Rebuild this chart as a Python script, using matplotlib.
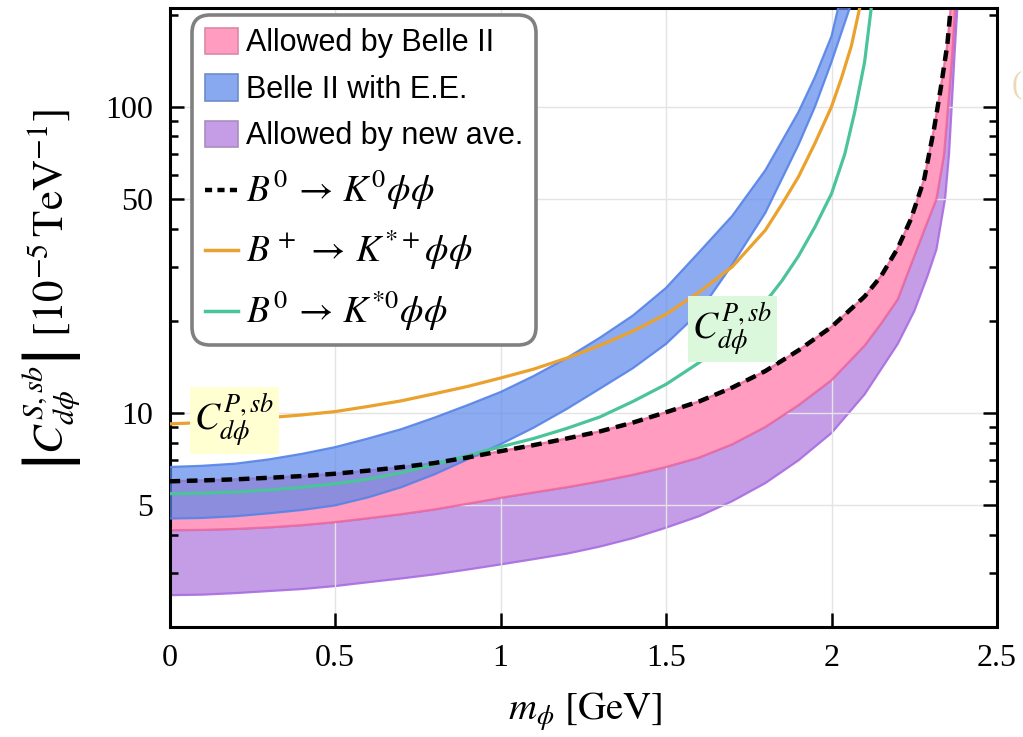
import numpy as np
import matplotlib.pyplot as plt
from matplotlib.patches import Patch
from matplotlib.lines import Line2D

plt.rcParams['mathtext.fontset'] = 'stix'
plt.rcParams['font.family'] = ['Liberation Serif', 'DejaVu Serif']

# values (|C| in 1e-5 TeV^-1 vs m_phi in GeV)
x_orange = [0, 0.1, 0.2, 0.3, 0.4, 0.5, 0.6, 0.7, 0.8, 0.9, 1.0, 1.1, 1.2, 1.3, 1.4, 1.5,
            1.6, 1.7, 1.8, 1.85, 1.9, 1.95, 2.0, 2.03, 2.06, 2.085]
y_orange = [9.21, 9.3, 9.45, 9.65, 9.85, 10.1, 10.5, 10.95, 11.55, 12.2, 13.0, 13.9, 15.1, 16.6,
            18.5, 21.0, 24.8, 30.0, 39.5, 48, 59, 76, 100, 124, 158, 210]

x_green = [0, 0.1, 0.2, 0.3, 0.4, 0.5, 0.6, 0.7, 0.8, 0.9, 1.0, 1.1, 1.2, 1.3, 1.4, 1.5,
           1.6, 1.7, 1.8, 1.85, 1.9, 1.95, 2.0, 2.04, 2.07, 2.1, 2.12]
y_green = [5.45, 5.47, 5.52, 5.6, 5.72, 5.87, 6.08, 6.38, 6.78, 7.25, 7.75, 8.25, 8.9, 9.7,
           10.9, 12.4, 14.6, 18.0, 23.0, 27, 32.5, 40.5, 52, 70, 96, 140, 210]

x_dash = [0, 0.1, 0.2, 0.3, 0.4, 0.5, 0.6, 0.7, 0.8, 0.9, 1.0, 1.1, 1.2, 1.3, 1.4, 1.5,
          1.6, 1.7, 1.8, 1.9, 2.0, 2.1, 2.15, 2.2, 2.24, 2.28, 2.31, 2.33, 2.35, 2.36]
y_dash = [5.98, 6.02, 6.07, 6.14, 6.22, 6.33, 6.48, 6.65, 6.86, 7.15, 7.5, 7.85, 8.25, 8.7,
          9.3, 10.05, 10.9, 12.1, 13.7, 16.0, 19.1, 24.0, 28.0, 34.5, 43, 58, 85, 115, 160, 210]

x_blue_up = [0, 0.1, 0.2, 0.3, 0.4, 0.5, 0.6, 0.7, 0.8, 0.9, 1.0, 1.1, 1.2, 1.3, 1.4, 1.5,
             1.6, 1.7, 1.8, 1.9, 1.95, 2.0, 2.02]
y_blue_up = [6.66, 6.72, 6.83, 7.05, 7.35, 7.73, 8.25, 8.85, 9.65, 10.6, 11.7, 13.2, 15.1, 17.6,
             20.8, 25.6, 33.5, 44, 62, 96, 125, 170, 210]
x_blue_lo = [0, 0.1, 0.2, 0.3, 0.4, 0.5, 0.6, 0.7, 0.8, 0.9, 1.0, 1.1, 1.2, 1.3, 1.4, 1.5,
             1.6, 1.7, 1.8, 1.9, 1.95, 2.0, 2.055]
y_blue_lo = [4.52, 4.54, 4.6, 4.7, 4.82, 4.99, 5.3, 5.72, 6.3, 7.05, 7.9, 8.95, 10.3, 12.0,
             14.0, 16.8, 21.3, 30.5, 45, 75, 100, 140, 210]

# pink band: between the dashed curve and this lower edge
x_pink_lo = [0, 0.1, 0.2, 0.3, 0.4, 0.5, 0.6, 0.7, 0.8, 0.9, 1.0, 1.1, 1.2, 1.3, 1.4, 1.5,
             1.6, 1.7, 1.8, 1.9, 2.0, 2.1, 2.15, 2.2, 2.24, 2.28, 2.317, 2.34, 2.352, 2.365, 2.373]
y_pink_lo = [4.14, 4.15, 4.18, 4.23, 4.3, 4.4, 4.53, 4.67, 4.84, 5.05, 5.28, 5.5, 5.72, 5.98,
             6.28, 6.66, 7.15, 7.9, 9.0, 10.6, 12.8, 16.6, 19.6, 23.5, 30.5, 39.5, 50, 70, 100,
             150, 210]

# purple band: between pink lower edge and this one
x_purp_lo = [0, 0.1, 0.2, 0.3, 0.4, 0.5, 0.6, 0.7, 0.8, 0.9, 1.0, 1.1, 1.2, 1.3, 1.4, 1.5,
             1.6, 1.7, 1.8, 1.9, 2.0, 2.1, 2.2, 2.25, 2.29, 2.317, 2.343, 2.355, 2.363, 2.372, 2.38]
y_purp_lo = [2.54, 2.55, 2.58, 2.62, 2.66, 2.72, 2.8, 2.88, 2.97, 3.08, 3.2, 3.33, 3.47, 3.66,
             3.9, 4.22, 4.6, 5.15, 5.9, 7.0, 8.6, 11.5, 16.8, 21.5, 28, 34.2, 50, 70, 100, 150, 210]

x_ticks = [0, 0.5, 1, 1.5, 2, 2.5]
x_ticklabels = ['0', '0.5', '1', '1.5', '2', '2.5']
y_ticks = [5, 10, 50, 100]
y_ticklabels = ['5', '10', '50', '100']
y_minor = [2, 3, 4, 6, 7, 8, 9, 20, 30, 40, 60, 70, 80, 90, 200]

legend_labels = ['Allowed by Belle II', 'Belle II with E.E.', 'Allowed by new ave.',
                 r'$B^0\,\rightarrow\,K^0\phi\phi$', r'$B^+\,\rightarrow\,K^{*+}\phi\phi$',
                 r'$B^0\,\rightarrow\,K^{*0}\phi\phi$']

PINK, PINK_E = '#ff9cbf', '#ee6a9e'
BLUE, BLUE_E = '#5d88ea', '#5683e6'
PURP, PURP_E = '#c59de6', '#a86ce0'
ORANGE = '#eba12e'
GREEN = '#4cc49a'


def band(ax, xu, yu, xl, yl, fc, ec, alpha, z):
    xs = np.concatenate([xu, xl[::-1]])
    ys = np.concatenate([yu, yl[::-1]])
    ax.fill(xs, ys, facecolor=fc, alpha=alpha, lw=0, zorder=z)
    ax.plot(xu, yu, color=ec, lw=1.6, alpha=0.9, zorder=z + 0.1)
    ax.plot(xl, yl, color=ec, lw=1.6, alpha=0.9, zorder=z + 0.1)


fig = plt.figure(figsize=(10.23, 7.37), dpi=100)
ax = fig.add_axes([0.1657, 0.1493, 0.8089, 0.8398])
ax.set_yscale('log')

band(ax, x_pink_lo, y_pink_lo, x_purp_lo, y_purp_lo, PURP, PURP_E, 1.0, 1)
band(ax, x_dash, y_dash, x_pink_lo, y_pink_lo, PINK, PINK_E, 1.0, 2)
band(ax, x_blue_up, y_blue_up, x_blue_lo, y_blue_lo, BLUE, BLUE_E, 0.7, 3)

ax.plot(x_green, y_green, color=GREEN, lw=2.3, zorder=4)
ax.plot(x_orange, y_orange, color=ORANGE, lw=2.3, zorder=4)
ax.plot(x_dash, y_dash, color='black', lw=3.2, dashes=(2.4, 1.5), zorder=5)

ax.set_xlim(0, 2.5)
ax.set_ylim(2.02, 210)
ax.set_xticks(x_ticks)
ax.set_xticklabels(x_ticklabels)
ax.set_yticks(y_ticks)
ax.set_yticklabels(y_ticklabels)
ax.set_yticks(y_minor, minor=True)
ax.set_yticklabels([], minor=True)
ax.tick_params(axis='both', which='major', direction='in', length=10, width=1.8,
               labelsize=23, pad=12)
ax.tick_params(axis='y', which='both', right=True)
ax.tick_params(axis='y', which='minor', direction='in', length=6, width=1.8)
ax.tick_params(axis='x', which='minor', bottom=False)
ax.grid(True, which='major', color='#e4e4e4', lw=1.0, zorder=0)
for s in ax.spines.values():
    s.set_linewidth(2.2)

# curve labels
ax.text(0.196, 9.45, r'$C_{d\phi}^{P,sb}$', fontsize=27, ha='center', va='center', zorder=6,
        bbox=dict(boxstyle='square,pad=0.12', facecolor='#ffffd2', edgecolor='none'))
ax.text(1.70, 18.8, r'$C_{d\phi}^{P,sb}$', fontsize=27, ha='center', va='center', zorder=6,
        bbox=dict(boxstyle='square,pad=0.12', facecolor='#dcf8dc', edgecolor='none'))

handles = [Patch(facecolor=PINK, edgecolor='#d88aa6', lw=1.2),
           Patch(facecolor='#88a8f0', edgecolor='#6f8cc8', lw=1.2),
           Patch(facecolor=PURP, edgecolor='#a98dc0', lw=1.2),
           Line2D([], [], color='black', lw=3.2, dashes=(1.6, 1.2)),
           Line2D([], [], color=ORANGE, lw=2.5),
           Line2D([], [], color=GREEN, lw=2.5)]
leg = ax.legend(handles, legend_labels, loc='upper left', bbox_to_anchor=(0.027, 0.989),
                borderaxespad=0, fancybox=True, framealpha=1, edgecolor='#808080',
                prop={'family': 'Liberation Sans', 'size': 22}, handlelength=1.1,
                handleheight=0.95, handletextpad=0.25, labelspacing=0.52,
                borderpad=0.42)
leg.get_frame().set_linewidth(2.6)
leg.get_frame().set_boxstyle('round,pad=0,rounding_size=0.6')
for t in leg.get_texts()[3:]:
    t.set_fontsize(27)
leg.set_zorder(10)

fig.text(0.05, 0.607, r'$\left|C_{d\phi}^{S,sb}\right|\ [10^{-5}\,\mathrm{TeV}^{-1}]$',
         rotation=90, fontsize=31, ha='center', va='center')
fig.text(0.572, 4 / 737, r'$m_\phi\ [\mathrm{GeV}]$', fontsize=28, ha='center', va='bottom')
fig.text(0.989, 1 - 85 / 737, '(', fontsize=22, color='#ead9b5', ha='left', va='center')

fig.savefig('out.png', dpi=100)
